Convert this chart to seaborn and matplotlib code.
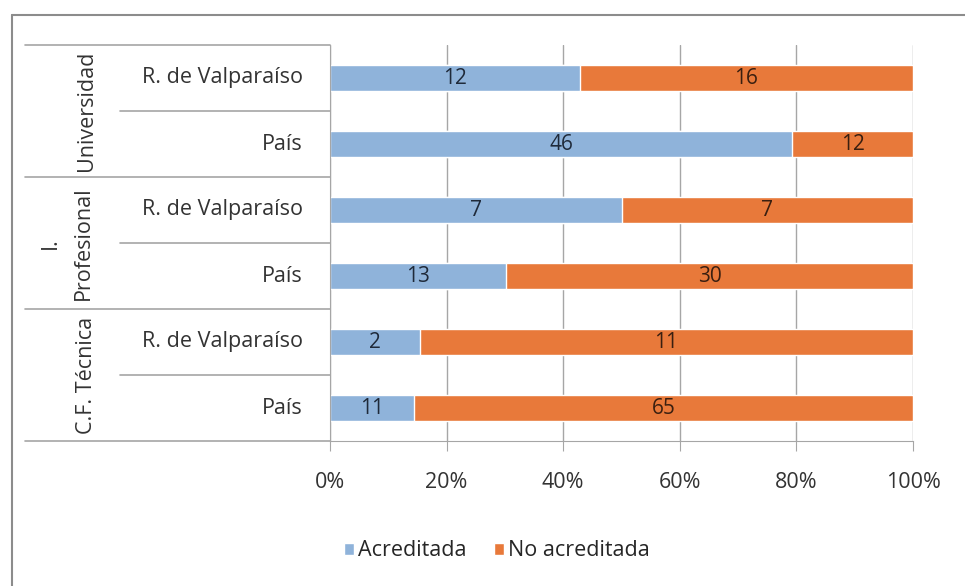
import matplotlib
matplotlib.use("Agg")
import matplotlib.pyplot as plt
from matplotlib.lines import Line2D
from matplotlib.patches import Patch
import matplotlib.transforms as mtransforms
import pandas as pd
import seaborn as sns

# datos
grupos = ["Universidad", "I.\nProfesional", "C.F. Técnica"]
zonas = ["R. de Valparaíso", "País"]
acreditada = [12, 46, 7, 13, 2, 11]
no_acreditada = [16, 12, 7, 30, 11, 65]

filas = [f"{g}|{z}" for g in grupos for z in zonas]
df = pd.DataFrame({"fila": filas, "acred": acreditada, "no_acred": no_acreditada})
df["total"] = df["acred"] + df["no_acred"]
df["pct_acred"] = df["acred"] / df["total"] * 100
df["pct_total"] = 100.0

azul = "#8FB3DA"
naranja = "#E8793A"
gris = "#A6A6A6"
texto = "#333333"
fs = 15.5

sns.set_style("white")
plt.rcParams["font.family"] = ["Open Sans", "DejaVu Sans"]

fig = plt.figure(figsize=(9.65, 5.86), dpi=100)
ax = fig.add_axes([330 / 965, 1 - 441 / 586, 583 / 965, 396 / 586])

sns.barplot(data=df, y="fila", x="pct_total", color=naranja, orient="h",
            width=0.4, ax=ax, saturation=1, order=filas)
sns.barplot(data=df, y="fila", x="pct_acred", color=azul, orient="h",
            width=0.4, ax=ax, saturation=1, order=filas)

# etiquetas numericas
for i, r in df.iterrows():
    ax.text(r["pct_acred"] / 2, i, str(r["acred"]), ha="center", va="center",
            fontsize=15, color="#1F2A3A")
    ax.text(r["pct_acred"] + (100 - r["pct_acred"]) / 2, i, str(r["no_acred"]),
            ha="center", va="center", fontsize=15, color="#3A1F10")

ax.set_xlim(0, 100)
ax.set_ylim(5.5, -0.5)
ax.set_xticks(range(0, 101, 20))
ax.set_xticklabels([f"{t}%" for t in range(0, 101, 20)], fontsize=fs, color=texto)
ax.set_yticks([])
ax.set_xlabel("")
ax.set_ylabel("")
ax.grid(axis="x", color=gris, linewidth=1)
ax.set_axisbelow(True)
for s in ["top", "right"]:
    ax.spines[s].set_visible(False)
ax.spines["left"].set_color(gris)
ax.spines["bottom"].set_color(gris)
ax.tick_params(axis="x", length=7, color=gris, pad=15, bottom=True)

# eje de categorias en dos niveles
trans = mtransforms.blended_transform_factory(ax.transAxes, ax.transData)
x_ext = (25 - 330) / 583
x_int = (120 - 330) / 583
for y in [-0.5, 1.5, 3.5, 5.5]:
    ax.add_line(Line2D([x_ext, 0], [y, y], transform=trans, color=gris,
                       linewidth=1.2, clip_on=False))
for y in [0.5, 2.5, 4.5]:
    ax.add_line(Line2D([x_int, 0], [y, y], transform=trans, color=gris,
                       linewidth=1.2, clip_on=False))
for i, f in enumerate(filas):
    ax.text((303 - 330) / 583, i, f.split("|")[1], transform=trans,
            ha="right", va="center", fontsize=fs, color=texto)
for j, g in enumerate(grupos):
    xg = (87 - 330) / 583 if "\n" not in g else (67 - 330) / 583
    ax.text(xg, 2 * j + 0.5, g, transform=trans, rotation=90, ha="center",
            va="center", fontsize=fs, color=texto, linespacing=1.75)

handles = [Patch(facecolor=azul, label="Acreditada"),
           Patch(facecolor=naranja, label="No acreditada")]
fig.legend(handles=handles, loc="center", bbox_to_anchor=(497 / 965, 1 - 551 / 586),
           ncol=2, frameon=False, fontsize=fs, handlelength=0.45, handleheight=0.45,
           columnspacing=1.3, handletextpad=0.2)

# marco del grafico
fig.add_artist(Line2D([12 / 965, 12 / 965], [0, 1 - 15 / 586], transform=fig.transFigure,
                      color="#8C8C8C", linewidth=1.5))
fig.add_artist(Line2D([12 / 965, 1], [1 - 15 / 586, 1 - 15 / 586], transform=fig.transFigure,
                      color="#8C8C8C", linewidth=1.5))

fig.savefig("out.png", dpi=100)
